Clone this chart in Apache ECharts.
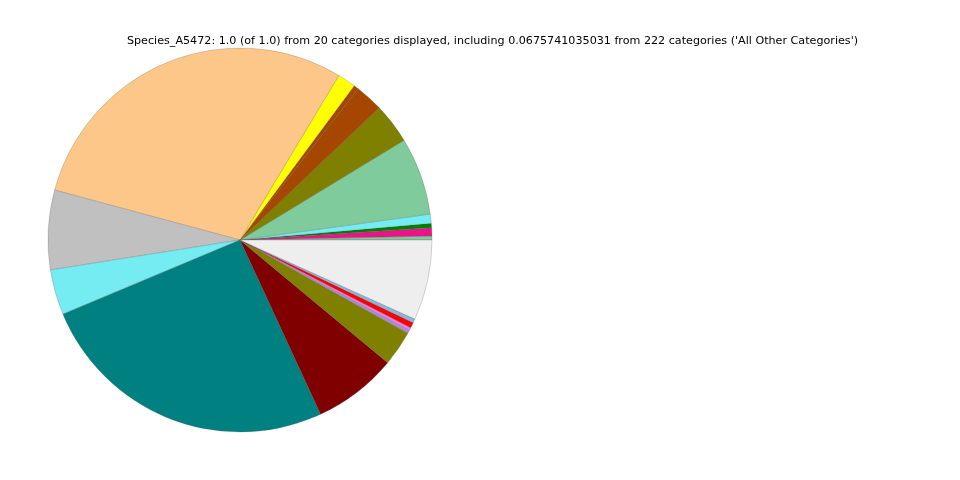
<!DOCTYPE html>
<html>
<head>
<meta charset="utf-8">
<script src="https://cdn.jsdelivr.net/npm/echarts@6/dist/echarts.min.js"></script>
<style>
html,body{margin:0;padding:0;background:#fff;}
#chart{width:960px;height:480px;}
</style>
</head>
<body>
<div id="chart"></div>
<script>
const titleText = "Species_A5472: 1.0 (of 1.0) from 20 categories displayed, including 0.0675741035031 from 222 categories ('All Other Categories')";
const categories = [
  "Category 1","Category 2","Category 3","Category 4","Category 5",
  "Category 6","Category 7","Category 8","Category 9","Category 10",
  "Category 11","Category 12","Category 13","Category 14","Category 15",
  "Category 16","Category 17","Category 18","Category 19","All Other Categories"
];
const values = [
  0.0033, 0.0069, 0.0036, 0.0078, 0.0653,
  0.0339, 0.0236, 0.0042, 0.0153, 0.2942,
  0.0669, 0.0381, 0.2558, 0.0708, 0.0297,
  0.0028, 0.0022, 0.0047, 0.0033, 0.0676
];
const colors = [
  "#80cb9b","#ee1289","#008000","#75ebf2","#80cb9b",
  "#808000","#a54700","#a54700","#ffff00","#fdc78a",
  "#c0c0c0","#75ebf2","#008080","#800000","#808000",
  "#a68fd0","#ee82ee","#ff0000","#8cb4dc","#eeeeee"
];

const chart = echarts.init(document.getElementById('chart'), null, {renderer:'canvas'});
chart.setOption({
  animation: false,
  backgroundColor: '#ffffff',
  title: {
    text: titleText,
    left: 487.5,
    top: 31,
    textAlign: 'center',
    textStyle: {fontFamily: 'DejaVu Sans', fontSize: 11.15, fontWeight: 'normal', color: '#000'}
  },
  series: [{
    type: 'pie',
    center: [240, 240],
    radius: [0, 192],
    startAngle: 0,
    clockwise: false,
    minAngle: 0,
    avoidLabelOverlap: false,
    label: {show: false},
    labelLine: {show: false},
    emphasis: {disabled: true},
    itemStyle: {borderColor: 'rgba(80,80,80,0.45)', borderWidth: 0.5},
    data: categories.map((c, i) => ({name: c, value: values[i], itemStyle: {color: colors[i]}}))
  }]
});
</script>
</body>
</html>
